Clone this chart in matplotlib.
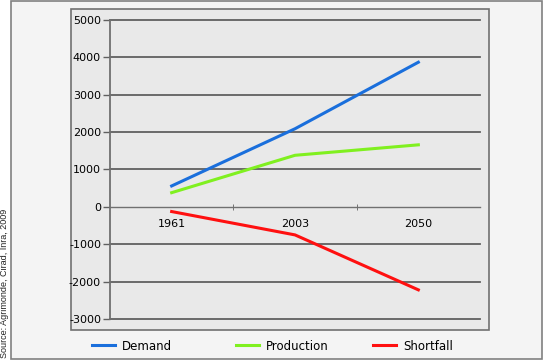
import matplotlib.pyplot as plt
from matplotlib.patches import Rectangle

years = ["1961", "2003", "2050"]
demand = [560, 2090, 3870]
production = [380, 1380, 1660]
shortfall = [-125, -750, -2220]
y_ticks = [-3000, -2000, -1000, 0, 1000, 2000, 3000, 4000, 5000]

W, H = 544, 360
fig = plt.figure(figsize=(W / 100, H / 100), dpi=100, facecolor="white")


def px_rect(x0, y0, x1, y1, **kw):
    # rectangle given in pixel coords from the top-left corner
    r = Rectangle((x0 / W, 1 - y1 / H), (x1 - x0) / W, (y1 - y0) / H,
                  transform=fig.transFigure, zorder=-5, **kw)
    fig.patches.append(r)


px_rect(11, 1, 542, 359, facecolor="#f4f4f4", edgecolor="#808080", lw=1.2)
px_rect(71, 9, 489, 330, facecolor="#e9e9e9", edgecolor="#707070", lw=1.2)

ax = fig.add_axes([110 / W, 1 - 319 / H, (480 - 110) / W, (319 - 20) / H])
ax.set_facecolor("none")
ax.set_zorder(3)

x = range(len(years))
lines = []
lines += ax.plot(x, demand, color="#1a6fdc", lw=2.2, label="Demand")
lines += ax.plot(x, production, color="#80f020", lw=2.2, label="Production")
lines += ax.plot(x, shortfall, color="#ff1010", lw=2.2, label="Shortfall")

ax.set_xlim(-0.5, 2.5)
ax.set_ylim(-3000, 5000)
ax.set_yticks(y_ticks)
ax.set_yticklabels([str(v) for v in y_ticks])
for v in y_ticks:
    if v != 0:
        ax.axhline(v, color="#606060", lw=1.3, zorder=0, clip_on=False)

for s in ["top", "right"]:
    ax.spines[s].set_visible(False)
ax.spines["left"].set_color("#707070")
ax.spines["left"].set_linewidth(1.3)
ax.spines["bottom"].set_position(("data", 0))
ax.spines["bottom"].set_color("#707070")
ax.spines["bottom"].set_linewidth(1.0)

ax.set_xticks(list(x))
ax.set_xticklabels(years)
ax.set_xticks([0.5, 1.5], minor=True)
ax.tick_params(axis="x", which="major", length=0, pad=9, labelsize=8)
ax.tick_params(axis="x", which="minor", length=5, direction="inout", color="#606060")
ax.tick_params(axis="y", length=5, width=1, color="#606060", pad=1.5, labelsize=8)

# one legend entry per slot, the legend row has equal-width columns
for line, x0 in zip(lines, [92, 236, 373]):
    fig.legend(handles=[line], loc="center left",
               bbox_to_anchor=(x0 / W, 1 - 346 / H), frameon=False,
               fontsize=8.5, handlelength=1.95, handletextpad=0.6,
               borderpad=0, borderaxespad=0)

fig.text(5 / W, 1 - 358 / H, "Source: Agrimonde, Cirad, Inra, 2009",
         rotation=90, ha="center", va="bottom", fontsize=6.5,
         family="Liberation Sans", color="#222222")

fig.savefig("out.png", dpi=100, facecolor=fig.get_facecolor())
